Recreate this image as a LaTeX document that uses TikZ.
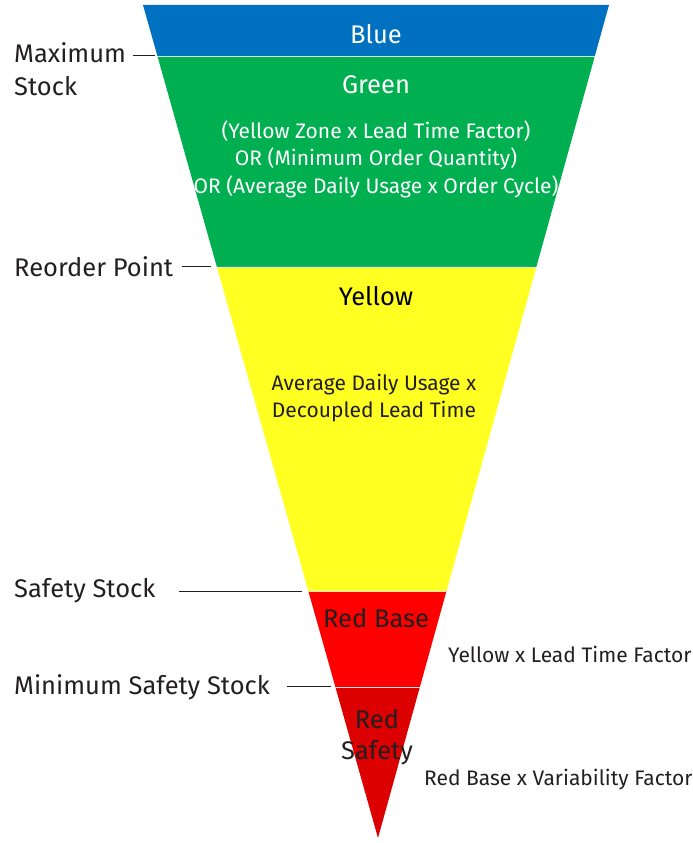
\documentclass[tikz,border=0pt]{standalone}
\usepackage{fontspec}
\setmainfont{Fira Sans}
\usetikzlibrary{calc,positioning}

\definecolor{zoneblue}{HTML}{0070C0}
\definecolor{zonegreen}{HTML}{00B050}
\definecolor{zoneyellow}{HTML}{FFFF22}
\definecolor{zonered}{HTML}{FF0000}
\definecolor{zonedarkred}{HTML}{DC0000}
\definecolor{labelgray}{HTML}{231F20}

\tikzset{
  zonetitle/.style={font=\fontsize{25.5}{31}\selectfont, align=center},
  zonetext/.style={font=\fontsize{21}{27.5}\selectfont, align=center},
  sidelabel/.style={font=\fontsize{25.5}{33}\selectfont, text=labelgray, anchor=west, align=left},
  factor/.style={font=\fontsize{21}{24}\selectfont, text=labelgray, anchor=west},
  leader/.style={draw=labelgray, line width=1pt},
  seam/.style={draw=white!75!gray, line width=0.7pt}
}

\begin{document}
\begin{tikzpicture}[x=1pt,y=-1pt, every node/.style={inner sep=0pt}]
    \useasboundingbox (0,0) rectangle (693,843);

    % funnel corners
    \coordinate (L0) at (143,5);
    \coordinate (R0) at (609,5);
    \coordinate (A) at (378,838);

    % zone boundaries along both sides
    \foreach \n/\t in {1/0.0612,2/0.3145,3/0.7035,4/0.8187}{
      \coordinate (L\n) at ($(L0)!\t!(A)$);
      \coordinate (R\n) at ($(R0)!\t!(A)$);
    }

    \fill[zoneblue] (L0) -- (R0) -- (R1) -- (L1) -- cycle;
    \fill[zonegreen] (L1) -- (R1) -- (R2) -- (L2) -- cycle;
    \fill[zoneyellow] (L2) -- (R2) -- (R3) -- (L3) -- cycle;
    \fill[zonered] (L3) -- (R3) -- (R4) -- (L4) -- cycle;
    \fill[zonedarkred] (L4) -- (R4) -- (A) -- cycle;

    \draw[seam] (L1) -- (R1);
    \draw[seam] (L2) -- (R2);
    \draw[seam] (L3) -- (R3);
    \draw[seam] (L4) -- (R4);

    % zone names and formulas
    \node[zonetitle, text=white] (blue) at (376,34) {Blue};
    \node[zonetitle, text=white] (green) at (376,85) {Green};
    \node[zonetext, text=white] (greenrule) at (376,159) {(Yellow Zone x Lead Time Factor)\\OR (Minimum Order Quantity)\\OR (Average Daily Usage x Order Cycle)};
    \node[zonetitle, text=black] (yellow) at (376,296) {Yellow};
    \node[zonetext, text=labelgray] (yellowrule) at (374,398) {Average Daily Usage x\\Decoupled Lead Time};
    \node[zonetitle, text=labelgray] (redbase) at (376,618) {Red Base};
    \node[zonetitle, text=labelgray] (redsafety) at (377,737) {Red\\Safety};

    \node[factor] (leadfactor) at (448,654) {Yellow x Lead Time Factor};
    \node[factor] (varfactor) at (424,780) {Red Base x Variability Factor};

    % stock levels on the left
    \node[sidelabel] (maxstock) at (14,69) {Maximum\\Stock};
    \node[sidelabel] (reorder) at (14,0 |- L2) {Reorder Point};
    \node[sidelabel] (safety) at (14,0 |- L3) {Safety Stock};
    \node[sidelabel] (minsafety) at (14,0 |- L4) {Minimum Safety Stock};

    \draw[leader] ([xshift=7pt]maxstock.east |- L1) -- ([xshift=-2pt]L1);
    \draw[leader] ([xshift=9pt]reorder.east) -- ([xshift=-6pt]L2);
    \draw[leader] ([xshift=23pt]safety.east) -- ([xshift=-6pt]L3);
    \draw[leader] ([xshift=17pt]minsafety.east) -- ([xshift=-4pt]L4);
\end{tikzpicture}
\end{document}
